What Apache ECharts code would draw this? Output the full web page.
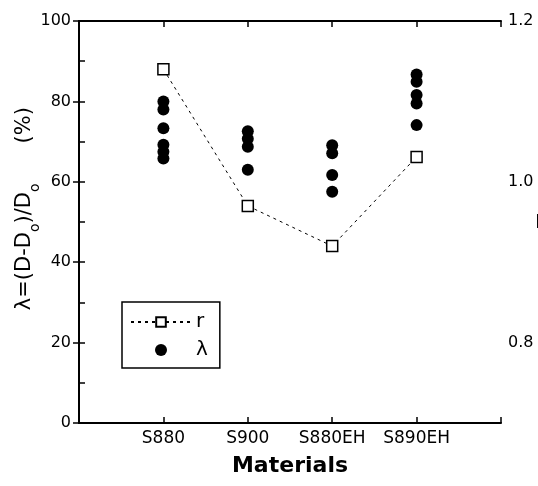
<!DOCTYPE html>
<html>
<head>
<meta charset="utf-8">
<script src="https://cdn.jsdelivr.net/npm/echarts@6/dist/echarts.min.js"></script>
<style>
  html, body { margin: 0; padding: 0; background: #fff; }
  #chart { width: 538px; height: 486px; }
</style>
</head>
<body>
<div id="chart"></div>
<script>
// materials along the x axis (placed at x = 1..4)
var materials = ['S880', 'S900', 'S880EH', 'S890EH'];

// lambda (%), one list per material
var lambdaS880 = [80, 78, 73.3, 69.2, 67.5, 65.8];
var lambdaS900 = [72.6, 70.7, 68.7, 63];
var lambdaS880EH = [69.1, 67.1, 61.7, 57.5];
var lambdaS890EH = [86.7, 84.9, 81.6, 79.5, 74.1];

// r values (right axis)
var rValues = [1.14, 0.97, 0.92, 1.031];

var lambdaLists = [lambdaS880, lambdaS900, lambdaS880EH, lambdaS890EH];
var lambdaData = [];
lambdaLists.forEach(function (list, i) {
    list.forEach(function (v) { lambdaData.push([i + 1, v]); });
});
var rData = rValues.map(function (v, i) { return [i + 1, v]; });

var font = 'DejaVu Sans, sans-serif';
var chart = echarts.init(document.getElementById('chart'));

chart.setOption({
    animation: false,
    backgroundColor: '#fff',
    grid: { left: 79, right: 37, top: 21, bottom: 63, outerBoundsMode: 'none', containLabel: false },
    legend: {
        orient: 'vertical',
        left: 122,
        top: 302,
        padding: [10, 12, 8, 8],
        itemWidth: 60,
        itemHeight: 12,
        itemGap: 8,
        borderColor: '#000',
        borderWidth: 1.5,
        textStyle: { fontFamily: font, fontSize: 20, color: '#000' },
        data: [{ name: 'r' }, { name: 'λ' }]
    },
    xAxis: [{
        type: 'value',
        min: 0, max: 5, interval: 1,
        position: 'bottom',
        splitLine: { show: false },
        axisLine: { lineStyle: { color: '#000', width: 2 } },
        axisTick: { inside: true, length: 6, lineStyle: { color: '#000', width: 1.5 } },
        axisLabel: {
            fontFamily: font, fontSize: 17, color: '#000', margin: 7,
            formatter: function (v) { return materials[v - 1] || ''; }
        },
        name: 'Materials',
        nameLocation: 'middle',
        nameGap: 32,
        nameMoveOverlap: false,
        nameTextStyle: { fontFamily: font, fontSize: 22, fontWeight: 'bold', color: '#000' }
    }, {
        type: 'value',
        min: 0, max: 5, interval: 1,
        position: 'top',
        splitLine: { show: false },
        axisLine: { lineStyle: { color: '#000', width: 2 } },
        axisTick: { inside: true, length: 6, lineStyle: { color: '#000', width: 1.5 } },
        axisLabel: { show: false }
    }],
    yAxis: [{
        type: 'value',
        min: 0, max: 100, interval: 10,
        position: 'left',
        splitLine: { show: false },
        axisLine: { lineStyle: { color: '#000', width: 2 } },
        axisTick: { inside: true, length: 6, lineStyle: { color: '#000', width: 1.5 } },
        axisLabel: {
            fontFamily: font, fontSize: 16, color: '#000', margin: 8,
            formatter: function (v) { return v % 20 === 0 ? String(v) : ''; }
        },
        name: '{a|    λ=(D-D}{s|o}{a|)/D}{s|o}{a|      (%)}',
        nameLocation: 'middle',
        nameGap: 37,
        nameMoveOverlap: false,
        nameTextStyle: {
            color: '#000',
            rich: {
                a: { fontFamily: font, fontSize: 21, color: '#000', lineHeight: 28, verticalAlign: 'top' },
                s: { fontFamily: font, fontSize: 14, color: '#000', lineHeight: 26, verticalAlign: 'bottom' }
            }
        }
    }, {
        type: 'value',
        min: 0.7, max: 1.2, interval: 0.1,
        position: 'right',
        splitLine: { show: false },
        axisLine: { lineStyle: { color: '#000', width: 2 } },
        axisTick: { inside: true, length: 6, lineStyle: { color: '#000', width: 1.5 } },
        axisLabel: {
            fontFamily: font, fontSize: 16, color: '#000', margin: 7,
            formatter: function (v) {
                var k = Math.round(v * 10);
                return (k % 2 === 0) ? (k / 10).toFixed(1) : '';
            }
        },
        name: 'r',
        nameLocation: 'middle',
        nameRotate: 0,
        nameGap: 34,
        nameMoveOverlap: false,
        nameTextStyle: { fontFamily: font, fontSize: 24, fontWeight: 'bold', color: '#000' }
    }],
    series: [{
        name: 'r',
        type: 'line',
        xAxisIndex: 0,
        yAxisIndex: 1,
        data: rData,
        symbol: 'rect',
        symbolSize: 11,
        lineStyle: { color: '#000', width: 1, type: [3, 4] },
        itemStyle: { color: '#fff', borderColor: '#000', borderWidth: 1.5 },
        z: 3
    }, {
        name: 'λ',
        type: 'scatter',
        xAxisIndex: 0,
        yAxisIndex: 0,
        data: lambdaData,
        symbol: 'circle',
        symbolSize: 12,
        itemStyle: { color: '#000', opacity: 1 },
        z: 2
    }]
});
</script>
</body>
</html>
